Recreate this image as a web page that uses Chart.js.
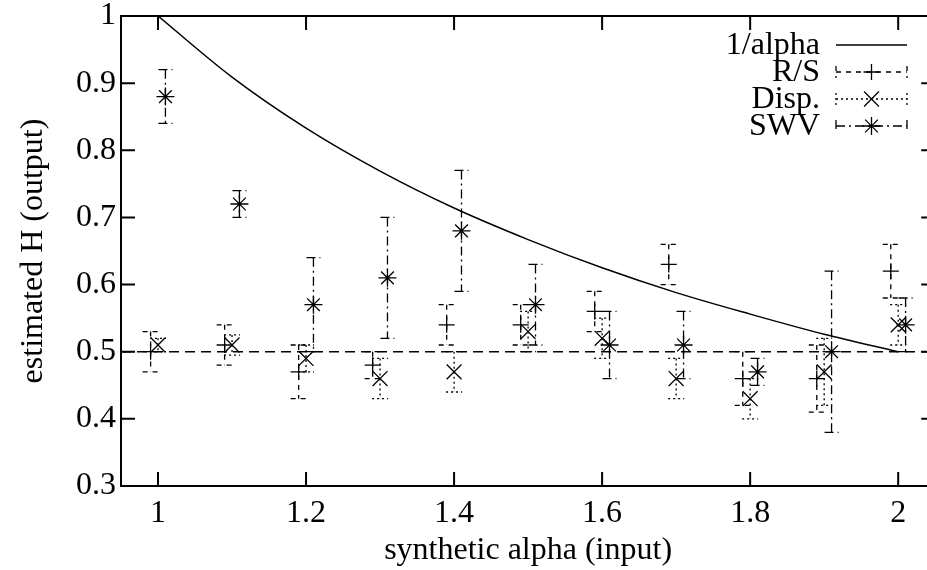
<!DOCTYPE html>
<html>
<head>
<meta charset="utf-8">
<script src="https://cdn.jsdelivr.net/npm/chart.js@4.4.1/dist/chart.umd.min.js"></script>
<style>
  html, body { margin: 0; padding: 0; background: #fff; overflow: hidden; }
  #wrap { width: 947px; height: 570px; }
</style>
</head>
<body>
<div id="wrap"><canvas id="hChart" width="947" height="570"></canvas></div>
<script>
// input alpha values and the estimators' output H (value, half error bar)
const alphas   = [1.0, 1.1, 1.2, 1.3, 1.4, 1.5, 1.6, 1.7, 1.8, 1.9, 2.0];
const invAlpha = [1.0, 0.909, 0.833, 0.769, 0.714, 0.667, 0.625, 0.588, 0.556, 0.526, 0.5];
const rsH      = [0.50, 0.51, 0.47, 0.48, 0.54, 0.54, 0.56, 0.63, 0.46, 0.46, 0.62];
const rsErr    = [0.03, 0.03, 0.04, 0.02, 0.03, 0.03, 0.03, 0.03, 0.04, 0.05, 0.04];
const dispH    = [0.51, 0.51, 0.49, 0.46, 0.47, 0.53, 0.52, 0.46, 0.43, 0.47, 0.54];
const dispErr  = [0.01, 0.015, 0.02, 0.03, 0.03, 0.03, 0.03, 0.03, 0.03, 0.05, 0.03];
const swvH     = [0.88, 0.72, 0.57, 0.61, 0.68, 0.57, 0.51, 0.51, 0.47, 0.50, 0.54];
const swvErr   = [0.04, 0.02, 0.07, 0.09, 0.09, 0.06, 0.05, 0.05, 0.02, 0.12, 0.04];
const refH     = 0.5;
const xRange   = [0.95, 2.05];
const yRange   = [0.3, 1];
const xTicks   = [1, 1.2, 1.4, 1.6, 1.8, 2];
const yTicks   = [0.3, 0.4, 0.5, 0.6, 0.7, 0.8, 0.9, 1];

const FONT = "'Liberation Serif', 'Times New Roman', serif";
const FSIZE = 32;

function pts(vals, shift) {
  return alphas.map((a, i) => ({ x: +(a + shift).toFixed(3), y: vals[i] }));
}

// error bars, drawn through the chart's scales
const errorBars = {
  id: 'errorBars',
  beforeDatasetsDraw(chart) {
    const ctx = chart.ctx, xs = chart.scales.x, ys = chart.scales.y;
    chart.data.datasets.forEach((ds) => {
      if (!ds.errors) return;
      ctx.save();
      ctx.strokeStyle = '#000';
      ctx.lineWidth = 1.3;
      ctx.setLineDash(ds.errDash);
      ds.data.forEach((p, i) => {
        const x = xs.getPixelForValue(p.x);
        const y1 = ys.getPixelForValue(p.y + ds.errors[i]);
        const y2 = ys.getPixelForValue(p.y - ds.errors[i]);
        const c = ds.capHalf;
        ctx.beginPath();
        ctx.moveTo(x, y1); ctx.lineTo(x, y2);
        ctx.moveTo(x - c, y1); ctx.lineTo(x + c, y1);
        ctx.moveTo(x - c, y2); ctx.lineTo(x + c, y2);
        ctx.stroke();
      });
      ctx.restore();
    });
  }
};

// gnuplot style frame with inward ticks, and the key
const frame = {
  id: 'frame',
  afterDraw(chart) {
    const ctx = chart.ctx, a = chart.chartArea, xs = chart.scales.x, ys = chart.scales.y;
    const tl = 14;
    ctx.save();
    ctx.strokeStyle = '#000';
    ctx.lineWidth = 2;
    ctx.strokeRect(a.left, a.top, a.right - a.left, a.bottom - a.top);
    ctx.beginPath();
    xTicks.forEach((v) => {
      const x = xs.getPixelForValue(v);
      ctx.moveTo(x, a.bottom); ctx.lineTo(x, a.bottom - tl);
      ctx.moveTo(x, a.top); ctx.lineTo(x, a.top + tl);
    });
    yTicks.forEach((v) => {
      const y = ys.getPixelForValue(v);
      ctx.moveTo(a.left, y); ctx.lineTo(a.left + tl, y);
      ctx.moveTo(a.right, y); ctx.lineTo(a.right - tl, y);
    });
    ctx.stroke();

    // key
    const textRight = 820, s0 = 836, s1 = 907, top = 45, step = 27;
    ctx.font = FSIZE + 'px ' + FONT;
    ctx.fillStyle = '#000';
    ctx.textAlign = 'right';
    ctx.textBaseline = 'middle';
    const keyItems = chart.data.datasets.filter((d) => d.label);
    keyItems.forEach((ds, i) => {
      const y = top + i * step;
      ctx.fillText(ds.label, textRight, y + 1);
      ctx.lineWidth = ds.errors ? 1.3 : 1.5;
      ctx.setLineDash(ds.errors ? ds.errDash : []);
      ctx.beginPath();
      ctx.moveTo(s0, y); ctx.lineTo(s1, y);
      if (ds.errors) {
        ctx.moveTo(s0, y - 6); ctx.lineTo(s0, y + 6);
        ctx.moveTo(s1, y - 6); ctx.lineTo(s1, y + 6);
      }
      ctx.stroke();
      ctx.setLineDash([]);
      if (ds.errors) {
        ctx.lineWidth = 1.3;
        Chart.helpers.drawPoint(ctx, {
          pointStyle: ds.pointStyle, rotation: 0, borderWidth: 1.3, radius: ds.pointRadius
        }, (s0 + s1) / 2, y);
      }
    });
    ctx.restore();
  }
};

const ctx = document.getElementById('hChart').getContext('2d');

new Chart(ctx, {
  type: 'scatter',
  data: {
    datasets: [
      {
        label: '1/alpha',
        type: 'line',
        data: pts(invAlpha, 0),
        borderColor: '#000',
        borderWidth: 1.5,
        pointRadius: 0,
        cubicInterpolationMode: 'monotone',
        fill: false
      },
      {
        label: 'R/S',
        data: pts(rsH, -0.01),
        errors: rsErr,
        errDash: [5, 5],
        capHalf: 8,
        pointStyle: 'cross',
        pointRadius: 8,
        borderColor: '#000',
        backgroundColor: '#000',
        pointBorderWidth: 1.3
      },
      {
        label: 'Disp.',
        data: pts(dispH, 0),
        errors: dispErr,
        errDash: [2, 3],
        capHalf: 8,
        pointStyle: 'crossRot',
        pointRadius: 10.5,
        borderColor: '#000',
        backgroundColor: '#000',
        pointBorderWidth: 1.3
      },
      {
        label: 'SWV',
        data: pts(swvH, 0.01),
        errors: swvErr,
        errDash: [9, 4, 2, 4],
        capHalf: 7,
        pointStyle: 'star',
        pointRadius: 9,
        borderColor: '#000',
        backgroundColor: '#000',
        pointBorderWidth: 1.3
      },
      {
        label: '',
        type: 'line',
        data: xRange.map((x) => ({ x: x, y: refH })),
        borderColor: '#000',
        borderWidth: 1.5,
        borderDash: [10, 6],
        pointRadius: 0,
        fill: false
      }
    ]
  },
  options: {
    responsive: false,
    animation: false,
    layout: { padding: { top: 16, right: 0, left: 0, bottom: 0 } },
    plugins: {
      legend: { display: false },
      tooltip: { enabled: false }
    },
    scales: {
      x: {
        type: 'linear',
        min: xRange[0],
        max: xRange[1],
        grid: { display: false, drawTicks: false },
        border: { display: false },
        afterBuildTicks: (s) => { s.ticks = xTicks.map((v) => ({ value: v })); },
        afterFit: (s) => { s.height = 84; s.paddingLeft = 0; s.paddingRight = 0; },
        ticks: {
          color: '#000',
          font: { family: FONT, size: FSIZE },
          padding: 8,
          maxRotation: 0,
          callback: (v) => String(v)
        },
        title: {
          display: true,
          text: 'synthetic alpha (input)',
          color: '#000',
          font: { family: FONT, size: FSIZE },
          padding: { top: 0, bottom: 0 }
        }
      },
      y: {
        type: 'linear',
        min: yRange[0],
        max: yRange[1],
        grid: { display: false, drawTicks: false },
        border: { display: false },
        afterBuildTicks: (s) => { s.ticks = yTicks.map((v) => ({ value: v })); },
        afterFit: (s) => { s.width = 121; s.paddingTop = 0; s.paddingBottom = 0; },
        ticks: {
          color: '#000',
          font: { family: FONT, size: FSIZE },
          padding: 5,
          callback: (v) => String(v)
        },
        title: {
          display: true,
          text: 'estimated H (output)',
          color: '#000',
          font: { family: FONT, size: FSIZE },
          padding: { top: 14, bottom: 0 }
        }
      }
    }
  },
  plugins: [errorBars, frame]
});
</script>
</body>
</html>
